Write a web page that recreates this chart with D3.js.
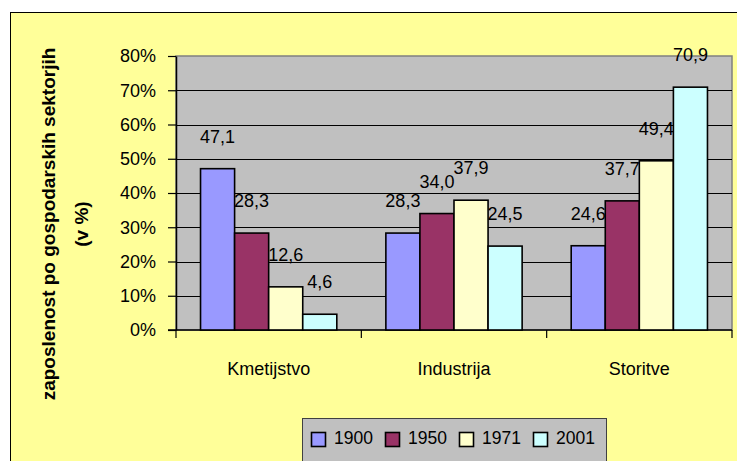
<!DOCTYPE html>
<html>
<head>
<meta charset="utf-8">
<script src="https://cdn.jsdelivr.net/npm/d3@7"></script>
<style>
    html, body { margin: 0; padding: 0; background: #ffffff; }
    svg { display: block; font-family: "Liberation Sans", Arial, sans-serif; }
</style>
</head>
<body>
<svg width="737" height="461"></svg>
<script>
// Data
const categories = ["Kmetijstvo", "Industrija", "Storitve"];
const years = ["1900", "1950", "1971", "2001"];
const v1900 = [47.1, 28.3, 24.6];
const v1950 = [28.3, 34.0, 37.7];
const v1971 = [12.6, 37.9, 49.4];
const v2001 = [4.6, 24.5, 70.9];
const yTicks = [0, 0.1, 0.2, 0.3, 0.4, 0.5, 0.6, 0.7, 0.8];
const yTitle = ["zaposlenost po gospodarskih sektorjih", "(v %)"];

const colors = ["#9999FF", "#993366", "#FFFFCC", "#CCFFFF"];
const seriesValues = [v1900, v1950, v1971, v2001];

const rows = [];
categories.forEach((c, i) => {
    years.forEach((y, j) => rows.push({cat: c, year: y, value: seriesValues[j][i], color: colors[j]}));
});

const sl = d3.formatLocale({decimal: ",", thousands: ".", grouping: [3], currency: ["", "€"]});
const fmtVal = sl.format(".1f");

const svg = d3.select("svg");

// Chart area (yellow)
svg.append("rect")
    .attr("x", 10.5).attr("y", 12.5)
    .attr("width", 740).attr("height", 460)
    .attr("fill", "#FFFF99")
    .attr("stroke", "#000").attr("stroke-width", 1);

// Plot area
const plot = {left: 176, right: 732, top: 56, bottom: 330};

const x0 = d3.scaleBand()
    .domain(categories)
    .range([plot.left, plot.right])
    .paddingInner(0).paddingOuter(0);

const x1 = d3.scaleBand()
    .domain(years)
    .range([0, x0.bandwidth()])
    .paddingInner(0).paddingOuter(0.72);

const y = d3.scaleLinear()
    .domain([0, 0.8])
    .range([plot.bottom, plot.top]);

svg.append("rect")
    .attr("x", plot.left).attr("y", plot.top)
    .attr("width", plot.right - plot.left).attr("height", plot.bottom - plot.top)
    .attr("fill", "#C0C0C0")
    .attr("stroke", "#808080").attr("stroke-width", 1.5);

// Gridlines
svg.append("g")
    .selectAll("line")
    .data(yTicks.filter(t => t > 0 && t < 0.8))
    .enter().append("line")
    .attr("x1", plot.left).attr("x2", plot.right)
    .attr("y1", d => Math.round(y(d)) + 0.5).attr("y2", d => Math.round(y(d)) + 0.5)
    .attr("stroke", "#000").attr("stroke-width", 1);

// Y axis
const yAxis = d3.axisLeft(y)
    .tickValues(yTicks)
    .tickFormat(d3.format(".0%"))
    .tickSize(8).tickSizeOuter(0).tickPadding(12);
const yAxisGroup = svg.append("g")
    .attr("transform", `translate(${plot.left}, 0)`)
    .call(yAxis);
yAxisGroup.select(".domain").attr("stroke", "#000").attr("stroke-width", 1.5);
yAxisGroup.selectAll(".tick line").attr("stroke", "#000").attr("stroke-width", 1.2);
yAxisGroup.selectAll(".tick text")
    .attr("font-size", 18).attr("fill", "#000")
    .attr("font-family", "Liberation Sans, Arial, sans-serif");

// X axis
const xAxis = d3.axisBottom(x0).tickSize(0).tickPadding(0);
const xAxisGroup = svg.append("g")
    .attr("transform", `translate(0, ${plot.bottom})`)
    .call(xAxis);
xAxisGroup.select(".domain").attr("stroke", "#000").attr("stroke-width", 1.5)
    .attr("d", `M${plot.left - 8},0H${plot.right}`);
xAxisGroup.selectAll(".tick text")
    .attr("font-size", 18).attr("fill", "#000")
    .attr("font-family", "Liberation Sans, Arial, sans-serif")
    .attr("y", 45).attr("dy", 0);

// Category boundary ticks
const bounds = categories.map(c => x0(c)).concat([plot.right]);
svg.append("g")
    .selectAll("line")
    .data(bounds)
    .enter().append("line")
    .attr("x1", d => d).attr("x2", d => d)
    .attr("y1", plot.bottom).attr("y2", plot.bottom + 8)
    .attr("stroke", "#000").attr("stroke-width", 1.2);

// Bars
svg.append("g")
    .selectAll("rect")
    .data(rows)
    .enter().append("rect")
    .attr("x", d => x0(d.cat) + x1(d.year))
    .attr("y", d => y(d.value / 100))
    .attr("width", x1.bandwidth())
    .attr("height", d => plot.bottom - y(d.value / 100))
    .attr("fill", d => d.color)
    .attr("stroke", "#000").attr("stroke-width", 1.6);

// Value labels
svg.append("g")
    .selectAll("text")
    .data(rows)
    .enter().append("text")
    .attr("x", d => x0(d.cat) + x1(d.year) + x1.bandwidth() / 2)
    .attr("y", d => y(d.value / 100) - 26)
    .attr("text-anchor", "middle")
    .attr("font-size", 18).attr("fill", "#000")
    .text(d => fmtVal(d.value));

// Y title
svg.append("g")
    .selectAll("text")
    .data(yTitle)
    .enter().append("text")
    .attr("transform", (d, i) => `translate(${i === 0 ? 55 : 88}, 224) rotate(-90)`)
    .attr("text-anchor", "middle")
    .attr("font-size", 19).attr("font-weight", "bold").attr("fill", "#000")
    .text(d => d);

// Legend
const legend = svg.append("g");
legend.append("rect")
    .attr("x", 302.5).attr("y", 418.5)
    .attr("width", 304).attr("height", 60)
    .attr("fill", "#C0C0C0")
    .attr("stroke", "#404040").attr("stroke-width", 1);

const items = legend.selectAll("g.item")
    .data(years)
    .enter().append("g")
    .attr("class", "item")
    .attr("transform", (d, i) => `translate(${311 + i * 74}, 0)`);

items.append("rect")
    .attr("x", 0.5).attr("y", 432.5)
    .attr("width", 14).attr("height", 14)
    .attr("fill", (d, i) => colors[i])
    .attr("stroke", "#000").attr("stroke-width", 1.6);

items.append("text")
    .attr("x", 23).attr("y", 444)
    .attr("font-size", 17.5).attr("fill", "#000")
    .text(d => d);
</script>
</body>
</html>
